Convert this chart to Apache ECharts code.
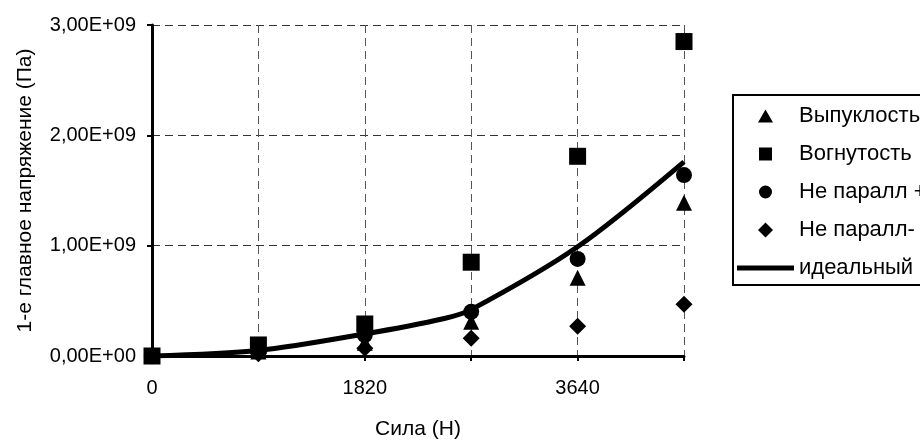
<!DOCTYPE html>
<html>
<head>
<meta charset="utf-8">
<script src="https://cdn.jsdelivr.net/npm/echarts@6/dist/echarts.min.js"></script>
<style>
  html, body { margin: 0; padding: 0; background: #fff; }
  #chart { width: 920px; height: 441px; }
</style>
</head>
<body>
<div id="chart"></div>
<script>
// сила (Н) и напряжения (Па)
const forces = [0, 910, 1820, 2730, 3640, 4550]
const convex = [0, 0.04e9, 0.12e9, 0.31e9, 0.71e9, 1.39e9]      // Выпуклость
const concave = [0, 0.10e9, 0.29e9, 0.85e9, 1.81e9, 2.85e9]     // Вогнутость
const nonParPlus = [0, 0.05e9, 0.19e9, 0.40e9, 0.88e9, 1.64e9]  // Не паралл +
const nonParMinus = [0, 0.02e9, 0.07e9, 0.16e9, 0.27e9, 0.47e9] // Не паралл-
const idealX = [0, 910, 1820, 2500, 2730, 3640, 4550]
const idealY = [0, 0.05e9, 0.20e9, 0.34e9, 0.42e9, 0.99e9, 1.76e9]
const xLabels = [0, 1820, 3640]

const pairs = (xs, ys) => xs.map((x, i) => [x, ys[i]])

const font = "'Liberation Sans', Arial, sans-serif"

// иконки легенды в рамке 57x15, чтобы не растягивались
const frame = "M0,0L0.01,0M57,15L56.99,15"
const icons = {
    triangle: "path://" + frame + "M28.5,1L36,14L21,14Z",
    rect: "path://" + frame + "M22,1H35V14H22Z",
    circle: "path://" + frame + "M22,7.5A6.5,6.5 0 1,1 35,7.5A6.5,6.5 0 1,1 22,7.5Z",
    diamond: "path://" + frame + "M28.5,0L36,7.5L28.5,15L21,7.5Z",
    line: "path://" + frame + "M0,5H57V10H0Z",
}

const chart = echarts.init(document.getElementById("chart"))

const scatter = (name, symbol, size, ys) => ({
    name: name,
    type: "scatter",
    symbol: symbol,
    symbolSize: size,
    itemStyle: { color: "#000", opacity: 1 },
    data: pairs(forces, ys),
    z: 2,
})

const option = {
    animation: false,
    backgroundColor: "#fff",
    grid: { left: 152, right: 236, top: 25, bottom: 85, outerBoundsMode: "none" },
    legend: {
        orient: "vertical",
        left: 733,
        top: 95,
        itemWidth: 57,
        itemHeight: 15,
        itemGap: 16,
        padding: [10, 60, 6, 4],
        borderColor: "#000",
        borderWidth: 2,
        backgroundColor: "#fff",
        textStyle: { fontFamily: font, fontSize: 22, color: "#000" },
        data: [
            { name: "Выпуклость", icon: icons.triangle },
            { name: "Вогнутость", icon: icons.rect },
            { name: "Не паралл +", icon: icons.circle },
            { name: "Не паралл-", icon: icons.diamond },
            { name: "идеальный", icon: icons.line },
        ],
    },
    xAxis: {
        type: "value",
        min: 0,
        max: 4550,
        interval: 910,
        name: "Сила (Н)",
        nameLocation: "middle",
        nameGap: 63,
        nameTextStyle: { fontFamily: font, fontSize: 21, color: "#000" },
        axisLine: { lineStyle: { color: "#000", width: 3 } },
        axisTick: { length: 5, lineStyle: { color: "#000", width: 2 } },
        axisLabel: {
            fontFamily: font, fontSize: 20, color: "#000", margin: 22,
            formatter: (v) => xLabels.includes(v) ? String(v) : "",
        },
        splitLine: { show: true, lineStyle: { color: "#555", type: [8, 5], width: 1 } },
    },
    yAxis: {
        type: "value",
        min: 0,
        max: 3e9,
        interval: 1e9,
        name: "1-е главное напряжение (Па)",
        nameLocation: "middle",
        nameGap: 116,
        nameTextStyle: { fontFamily: font, fontSize: 21, color: "#000" },
        axisLine: { show: true, lineStyle: { color: "#000", width: 3 } },
        axisTick: { show: true, length: 5, lineStyle: { color: "#000", width: 2 } },
        axisLabel: {
            fontFamily: font, fontSize: 20, color: "#000", margin: 16,
            formatter: (v) => v === 0 ? "0,00E+00" : (v / 1e9).toFixed(2).replace(".", ",") + "E+09",
        },
        splitLine: { show: true, lineStyle: { color: "#333", type: [8, 5], width: 1 } },
    },
    series: [
        scatter("Выпуклость", "triangle", 16, convex),
        scatter("Вогнутость", "rect", 17, concave),
        scatter("Не паралл +", "circle", 16, nonParPlus),
        scatter("Не паралл-", "diamond", 17, nonParMinus),
        {
            name: "идеальный",
            type: "line",
            smooth: 0.3,
            symbol: "none",
            lineStyle: { color: "#000", width: 5 },
            itemStyle: { color: "#000" },
            data: pairs(idealX, idealY),
            z: 3,
        },
    ],
}

chart.setOption(option)
</script>
</body>
</html>
